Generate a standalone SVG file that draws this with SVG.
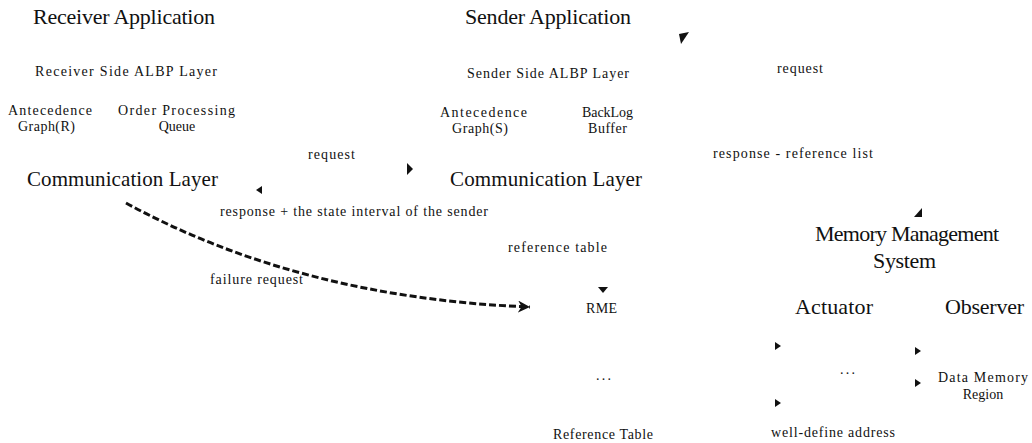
<svg xmlns="http://www.w3.org/2000/svg" width="1032" height="443" viewBox="0 0 1032 443">
<style>
text{font-family:"Liberation Serif","Times New Roman",serif;fill:#111}
.big{font-size:22px}
.cl{font-size:21px}
.sm{font-size:14px}
.mid{text-anchor:middle}
.ah{fill:#111}
.dash{fill:none;stroke:#111;stroke-width:3;stroke-dasharray:7 3}
</style>
<defs>
<marker id="arr" viewBox="0 0 10 10" refX="10" refY="5" markerWidth="4" markerHeight="4" orient="auto" markerUnits="strokeWidth">
<path d="M0,0 L10,5 L0,10 L3,5 Z" fill="#111"/>
</marker>
</defs>
<rect width="1032" height="443" fill="#fff"/>
<g id="receiver-application"><text class="big" x="33" y="24" textLength="182" lengthAdjust="spacing">Receiver Application</text></g>
<g id="sender-application"><text class="big" x="465" y="24" textLength="166" lengthAdjust="spacing">Sender Application</text></g>
<g id="receiver-albp"><text class="sm" x="35" y="76" textLength="182" lengthAdjust="spacing">Receiver Side ALBP Layer</text></g>
<g id="sender-albp"><text class="sm" x="467" y="78" textLength="162" lengthAdjust="spacing">Sender Side ALBP Layer</text></g>
<g id="antecedence-r"><text class="sm" x="8" y="115" textLength="84" lengthAdjust="spacing">Antecedence</text><text class="sm" x="18" y="131" textLength="57" lengthAdjust="spacing">Graph(R)</text></g>
<g id="order-queue"><text class="sm" x="118" y="115" textLength="117" lengthAdjust="spacing">Order Processing</text><text class="sm mid" x="177" y="131">Queue</text></g>
<g id="antecedence-s"><text class="sm" x="440" y="117" textLength="87" lengthAdjust="spacing">Antecedence</text><text class="sm" x="452" y="133" textLength="56" lengthAdjust="spacing">Graph(S)</text></g>
<g id="backlog-buffer"><text class="sm" x="582" y="117" textLength="51" lengthAdjust="spacing">BackLog</text><text class="sm" x="588" y="133" textLength="39" lengthAdjust="spacing">Buffer</text></g>
<g id="comm-left"><text class="cl" x="27" y="186" textLength="191" lengthAdjust="spacing">Communication Layer</text></g>
<g id="comm-right"><text class="cl" x="450" y="186" textLength="192" lengthAdjust="spacing">Communication Layer</text></g>
<g id="memory-management"><text class="big" x="815" y="241" textLength="184" lengthAdjust="spacing">Memory Management</text><text class="big" x="873" y="268" textLength="63" lengthAdjust="spacing">System</text></g>
<g id="actuator"><text class="big" x="795" y="314" textLength="78" lengthAdjust="spacing">Actuator</text></g>
<g id="observer"><text class="big" x="945" y="314" textLength="79" lengthAdjust="spacing">Observer</text></g>
<g id="rme"><text class="sm" x="586" y="313" textLength="31" lengthAdjust="spacing">RME</text></g>
<g id="ref-dots"><text class="sm" x="596" y="380" textLength="15" lengthAdjust="spacing">...</text></g>
<g id="reference-table"><text class="sm" x="553" y="439" textLength="100" lengthAdjust="spacing">Reference Table</text></g>
<g id="act-dots"><text class="sm" x="840" y="374" textLength="15" lengthAdjust="spacing">...</text></g>
<g id="data-memory"><text class="sm" x="938" y="382" textLength="90" lengthAdjust="spacing">Data Memory</text><text class="sm mid" x="983" y="399">Region</text></g>
<g id="well-define"><text class="sm" x="771" y="437" textLength="124" lengthAdjust="spacing">well-define address</text></g>
<g id="connectors">
<path class="dash" d="M126,203 Q300,298 530,307" marker-end="url(#arr)"/>
<polygon class="ah" points="679,34 689,32 681,44"/>
<polygon class="ah" points="407,163 413,169 407,175"/>
<polygon class="ah" points="262,186 256,190 262,194"/>
<polygon class="ah" points="914,217 922,208 922,217"/>
<polygon class="ah" points="598,287 608,287 603,293"/>
<polygon class="ah" points="775,342 781,346 775,350"/>
<polygon class="ah" points="775,399 781,403 775,407"/>
<polygon class="ah" points="915,347 921,351 915,355"/>
<polygon class="ah" points="915,379 921,383 915,387"/>
<text class="sm" x="777" y="73" textLength="46" lengthAdjust="spacing">request</text>
<text class="sm" x="308" y="159" textLength="47" lengthAdjust="spacing">request</text>
<text class="sm" x="713" y="158" textLength="160" lengthAdjust="spacing">response - reference list</text>
<text class="sm" x="220" y="216" textLength="268" lengthAdjust="spacing">response + the state interval of the sender</text>
<text class="sm" x="508" y="252" textLength="99" lengthAdjust="spacing">reference table</text>
<text class="sm" x="210" y="284" textLength="93" lengthAdjust="spacing">failure request</text>
</g>
</svg>
